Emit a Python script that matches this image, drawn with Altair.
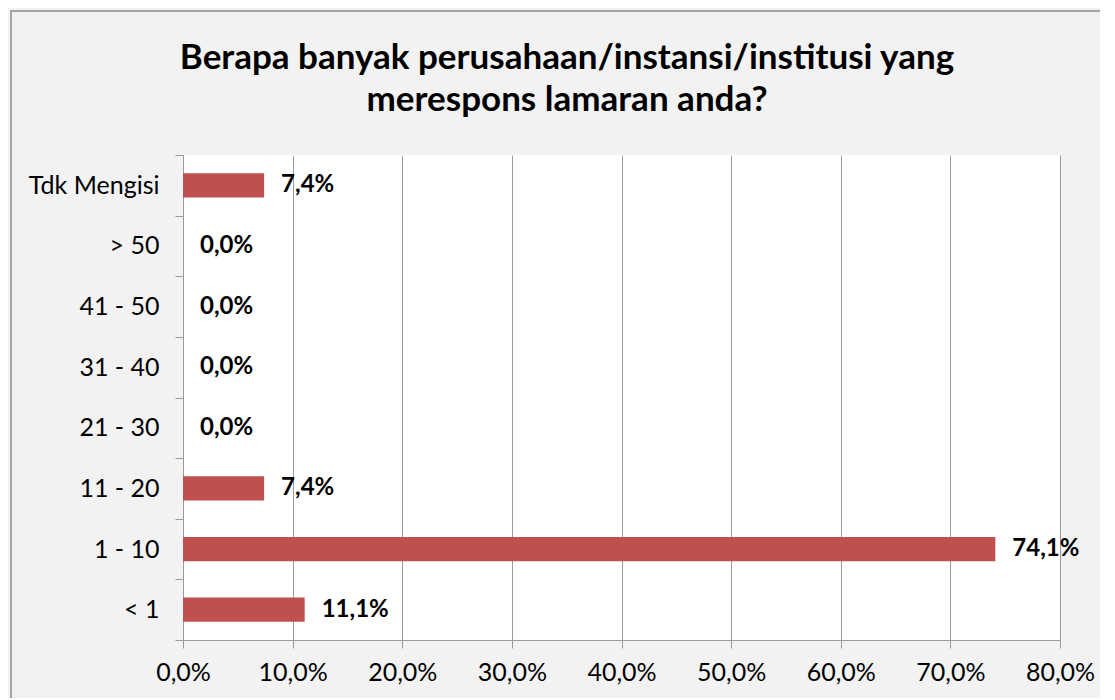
import altair as alt
import pandas as pd

categories = ["Tdk Mengisi", "> 50", "41 - 50", "31 - 40", "21 - 30", "11 - 20", "1 - 10", "< 1"]
values = [7.4, 0.0, 0.0, 0.0, 0.0, 7.4, 74.1, 11.1]
x_ticks = [0, 10, 20, 30, 40, 50, 60, 70, 80]
title_lines = ["Berapa banyak perusahaan/instansi/institusi yang", "merespons lamaran anda?"]

df = pd.DataFrame({"cat": categories, "val": values})

FONT = "Lato"
GRID = "#9a9a9a"

y_enc = alt.Y(
    "cat:N",
    sort=categories,
    title=None,
    scale=alt.Scale(paddingInner=0, paddingOuter=0),
    axis=alt.Axis(
        labelFont=FONT, labelFontSize=25, labelColor="#000000", labelPadding=16,
        tickBand="extent", tickSize=8, tickColor=GRID, domainColor=GRID,
        grid=False,
    ),
)
x_enc = alt.X(
    "val:Q",
    title=None,
    scale=alt.Scale(domain=[0, 80], nice=False),
    axis=alt.Axis(
        values=x_ticks, labelExpr="datum.value + ',0%'", labelFlush=False,
        labelFont=FONT, labelFontSize=25, labelColor="#000000", labelPadding=12,
        tickSize=8, tickColor=GRID, domainColor=GRID,
        grid=True, gridColor=GRID, gridWidth=1,
    ),
)

bars = alt.Chart(df).mark_bar(color="#c0504d", height=alt.RelativeBandSize(0.4)).encode(
    x=x_enc, y=y_enc
)
labels = alt.Chart(df).transform_calculate(
    lbl="replace(format(datum.val, '.1f'), '.', ',') + '%'"
).mark_text(
    align="left", baseline="middle", dx=17, font=FONT, fontSize=24, fontWeight="bold", color="#000000"
).encode(x="val:Q", y=alt.Y("cat:N", sort=categories), text="lbl:N")

frame = alt.Chart(alt.Data(values=[{}])).mark_rect(
    fill=None, stroke="#8c8c8c", strokeWidth=1.5
).encode(
    x=alt.value(-172), x2=alt.value(1100), y=alt.value(-144), y2=alt.value(700)
)

title1 = alt.Chart(alt.Data(values=[{}])).mark_text(
    font=FONT, fontSize=35, fontWeight="bold", color="#000000", align="center", baseline="middle"
).encode(x=alt.value(384), y=alt.value(-97), text=alt.value(title_lines[0]))
title2 = alt.Chart(alt.Data(values=[{}])).mark_text(
    font=FONT, fontSize=35, fontWeight="bold", color="#000000", align="center", baseline="middle"
).encode(x=alt.value(384), y=alt.value(-55), text=alt.value(title_lines[1]))

chart = alt.layer(frame, title1, title2, bars, labels).properties(
    width=877,
    height=485,
    background="#f2f2f2",
    padding={"left": 175, "top": 147, "right": 40, "bottom": 58},
    autosize=alt.AutoSizeParams(type="none"),
).configure_view(stroke=None, fill="#ffffff")

chart.save("out.html", embed_options={"renderer": "svg", "actions": False})
